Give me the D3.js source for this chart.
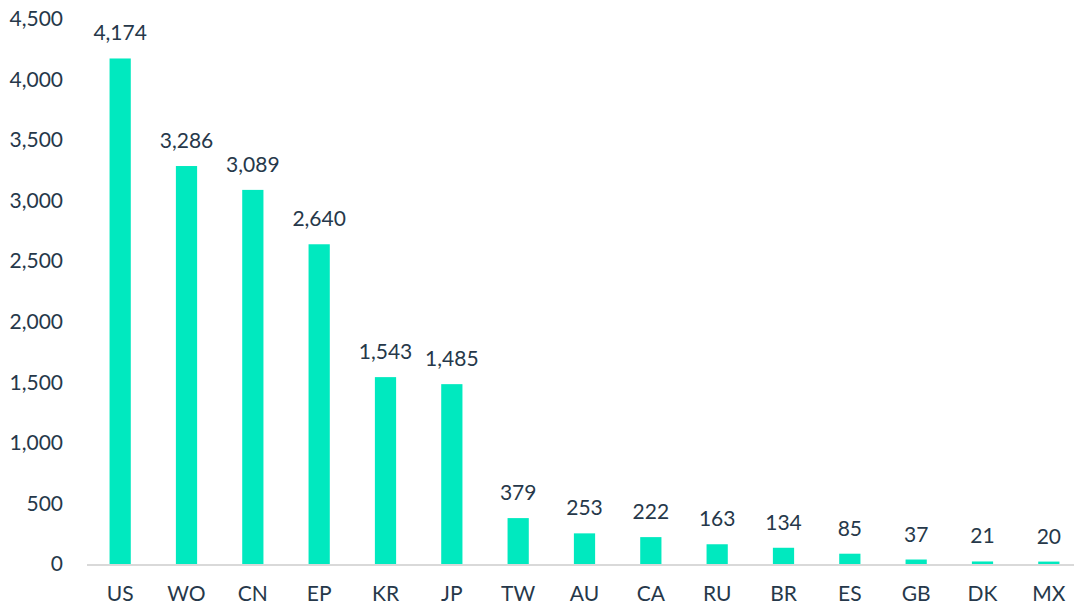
<!DOCTYPE html>
<html>
<head>
<meta charset="utf-8">
<script src="https://cdn.jsdelivr.net/npm/d3@7"></script>
<style>
    body { margin: 0; background: #fff; }
    text { font-family: Lato, "Open Sans", sans-serif; fill: #26384a; }
</style>
</head>
<body>
<div id="chart"></div>
<script>
// Chart data
const countries = ['US', 'WO', 'CN', 'EP', 'KR', 'JP', 'TW', 'AU', 'CA', 'RU', 'BR', 'ES', 'GB', 'DK', 'MX'];
const counts = [4174, 3286, 3089, 2640, 1543, 1485, 379, 253, 222, 163, 134, 85, 37, 21, 20];
const yTicks = [0, 500, 1000, 1500, 2000, 2500, 3000, 3500, 4000, 4500];

const width = 1074;
const height = 607;
const margin = { top: 19, right: -8, bottom: 43, left: 87 };

const svg = d3.select('#chart')
    .append('svg')
    .attr('width', width)
    .attr('height', height);

const g = svg.append('g')
    .attr('transform', `translate(${margin.left},${margin.top})`);

const innerW = width - margin.left - margin.right;
const innerH = height - margin.top - margin.bottom;

const data = countries.map((c, i) => ({ country: c, value: counts[i] }));

// Scales
const xScale = d3.scaleBand()
    .domain(countries)
    .range([0, innerW])
    .paddingInner(0.68)
    .paddingOuter(0.34);

const yScale = d3.scaleLinear()
    .domain([0, 4500])
    .range([innerH, 0]);

// Y axis labels
const yAxis = g.append('g')
    .call(d3.axisLeft(yScale)
        .tickValues(yTicks)
        .tickFormat(d3.format(','))
        .tickSize(0)
        .tickPadding(24));
yAxis.select('.domain').remove();
yAxis.selectAll('text')
    .style('font-size', '21px')
    .attr('fill', '#26384a');

// Bars
g.selectAll('.bar')
    .data(data)
    .enter()
    .append('rect')
    .attr('class', 'bar')
    .attr('x', d => xScale(d.country))
    .attr('y', d => yScale(d.value))
    .attr('width', xScale.bandwidth())
    .attr('height', d => innerH - yScale(d.value))
    .style('fill', '#00e9bf');

// Baseline
g.append('line')
    .attr('x1', 0)
    .attr('x2', innerW)
    .attr('y1', innerH + 1)
    .attr('y2', innerH + 1)
    .style('stroke', '#d9d9d9')
    .style('stroke-width', 2);

// Value labels
g.selectAll('.value-label')
    .data(data)
    .enter()
    .append('text')
    .attr('class', 'value-label')
    .attr('x', d => xScale(d.country) + xScale.bandwidth() / 2)
    .attr('y', d => yScale(d.value) - 18)
    .attr('text-anchor', 'middle')
    .style('font-size', '21px')
    .text(d => d3.format(',')(d.value));

// X axis labels
const xAxis = g.append('g')
    .attr('transform', `translate(0,${innerH})`)
    .call(d3.axisBottom(xScale).tickSize(0).tickPadding(22));
xAxis.select('.domain').remove();
xAxis.selectAll('text')
    .style('font-size', '21px')
    .attr('fill', '#26384a');
</script>
</body>
</html>
